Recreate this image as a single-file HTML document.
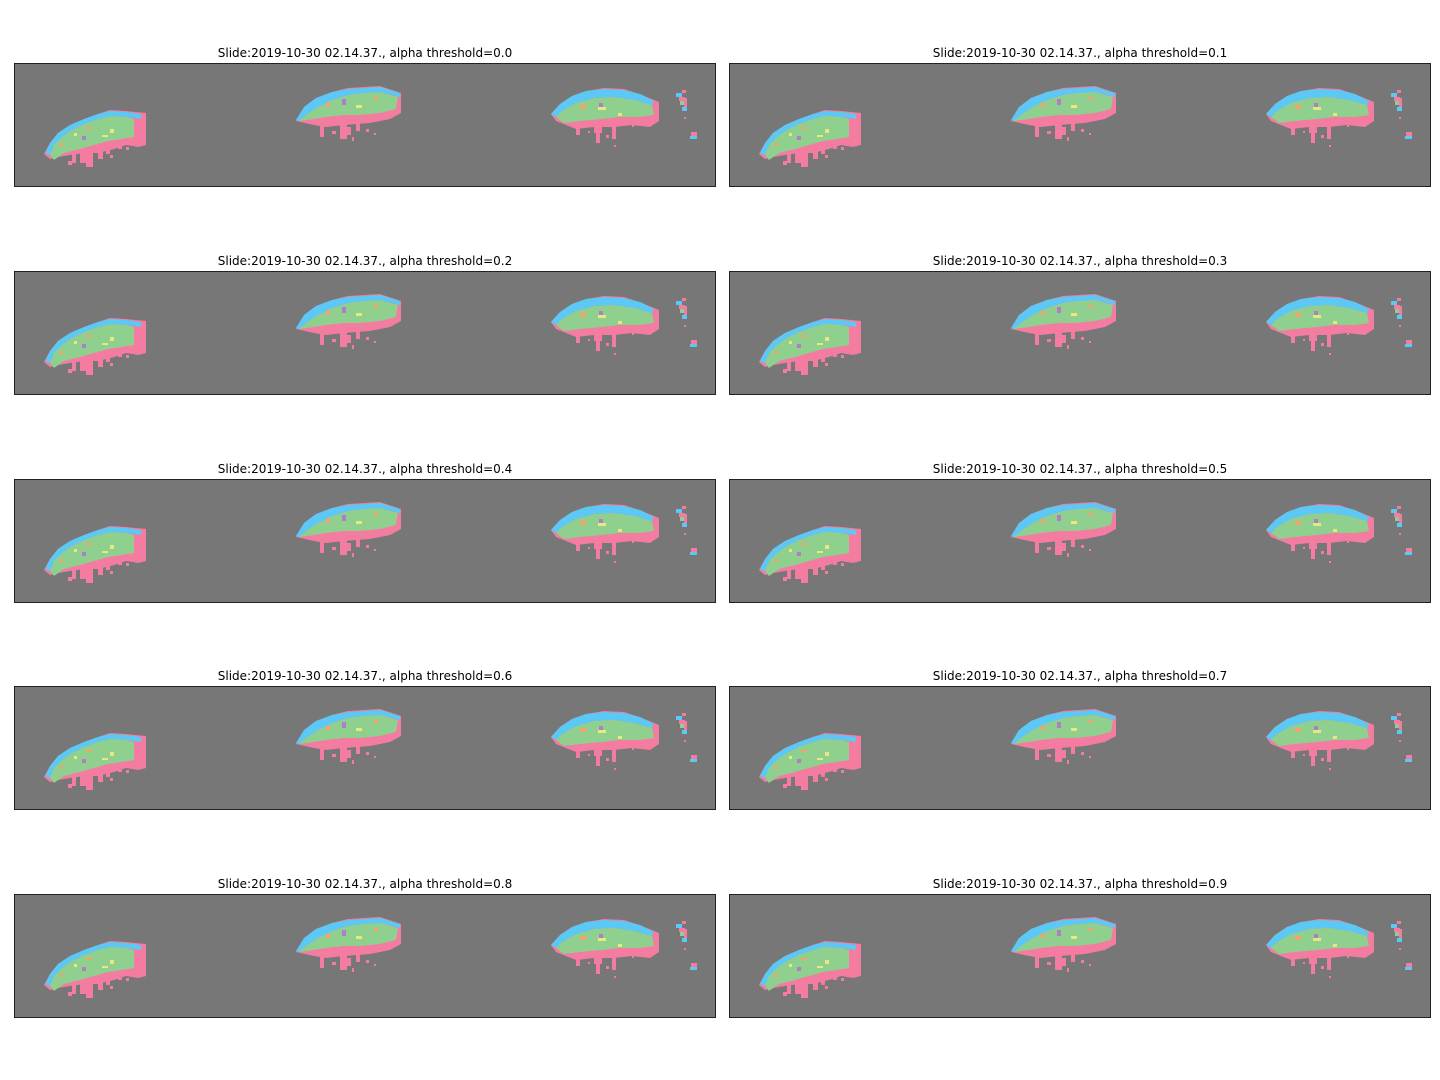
<!DOCTYPE html>
<html><head><meta charset="utf-8"><style>
body{margin:0;background:#fff;width:1440px;height:1080px;position:relative;overflow:hidden;font-family:"DejaVu Sans","Liberation Sans",sans-serif}
.t{position:absolute;font-size:12px;color:#000;white-space:nowrap;transform:translateX(-50%)}
svg.p{position:absolute}
</style></head><body>
<svg width="0" height="0" style="position:absolute">
<defs>
<g id="brain">
<!-- blob1 -->
<polygon fill="#f47ca0" points="30,91 36,80 44,70 56,62 70,56 84,51 96,47 112,48 132,50 132,82 124,84 112,82 100,86 84,90 70,90 56,92 44,94 36,96"/>
<polygon fill="#5bc8f5" points="31,90 36,80 44,70 56,62 70,56 84,51 96,48 112,49 127,51 127,56 112,54 96,53 84,56 70,61 58,67 48,74 40,82 36,92"/>
<polygon fill="#8fd08f" points="36,92 40,82 48,74 58,67 70,61 84,56 96,53 112,54 120,56 120,74 108,76 94,78 80,82 66,86 50,90 40,97"/>
<g fill="#f47ca0"><rect x="72" y="84" width="7" height="20"/><rect x="66" y="90" width="6" height="10"/><rect x="84" y="84" width="5" height="12"/><rect x="92" y="82" width="4" height="9"/><rect x="58" y="90" width="4" height="10"/><rect x="104" y="78" width="4" height="8"/><rect x="112" y="84" width="3" height="3"/><rect x="54" y="98" width="4" height="4"/><rect x="96" y="92" width="3" height="3"/></g>
<rect fill="#e8e880" x="60" y="70" width="3" height="3"/><rect fill="#f4a070" x="72" y="64" width="6" height="2"/><rect fill="#e8e880" x="96" y="66" width="4" height="4"/><rect fill="#b07ec8" x="68" y="73" width="4" height="4"/><rect fill="#f4a070" x="46" y="80" width="3" height="3"/><rect fill="#e8e880" x="88" y="72" width="6" height="2"/>
<!-- blob2 -->
<polygon fill="#f47ca0" points="282,58 290,44 302,35 318,29 334,25 350,24 366,23 387,30 387,50 376,56 356,60 330,62 312,64 300,62"/>
<polygon fill="#5bc8f5" points="282,57 290,44 302,35 318,29 334,26 350,25 366,24 386,30 386,34 366,29 350,30 334,32 318,37 304,44 292,52 285,58"/>
<polygon fill="#8fd08f" points="285,58 292,52 304,44 318,37 334,32 350,30 366,29 384,34 382,46 366,50 346,52 330,52 312,54 300,56"/>
<g fill="#f47ca0"><rect x="306" y="60" width="4" height="14"/><rect x="326" y="58" width="7" height="18"/><rect x="332" y="64" width="5" height="8"/><rect x="342" y="58" width="4" height="10"/><rect x="318" y="68" width="4" height="3"/><rect x="352" y="66" width="3" height="3"/><rect x="360" y="70" width="2" height="2"/><rect x="338" y="74" width="2" height="4"/></g>
<rect fill="#f4a070" x="312" y="40" width="4" height="4"/><rect fill="#b07ec8" x="328" y="36" width="4" height="6"/><rect fill="#e8e880" x="342" y="42" width="6" height="3"/><rect fill="#f4a070" x="360" y="34" width="4" height="3"/>
<!-- blob3 -->
<polygon fill="#f47ca0" points="537,51 546,41 558,33 572,28 590,25 610,26 628,32 645,39 645,58 636,64 618,62 600,64 580,64 562,66 552,62 542,58"/>
<polygon fill="#5bc8f5" points="537,51 546,41 558,33 572,28 590,26 610,27 626,31 640,38 638,42 620,37 600,34 580,35 562,40 548,48 542,54"/>
<polygon fill="#8fd08f" points="542,54 548,48 562,40 580,35 600,34 620,37 638,42 640,52 626,54 606,54 588,56 566,58 550,60"/>
<g fill="#f47ca0"><rect x="562" y="62" width="4" height="10"/><rect x="580" y="60" width="8" height="10"/><rect x="582" y="68" width="4" height="12"/><rect x="598" y="62" width="4" height="14"/><rect x="618" y="62" width="2" height="2"/><rect x="592" y="72" width="3" height="3"/><rect x="574" y="68" width="2" height="2"/><rect x="600" y="82" width="2" height="2"/></g>
<rect fill="#f4a070" x="566" y="42" width="6" height="4"/><rect fill="#e8e880" x="584" y="44" width="8" height="3"/><rect fill="#b07ec8" x="585" y="40" width="4" height="4"/><rect fill="#e8e880" x="604" y="50" width="4" height="3"/>
<!-- blob4 -->
<rect fill="#5bc8f5" x="662" y="30" width="6" height="4"/><rect fill="#f47ca0" x="668" y="27" width="4" height="3"/><rect fill="#f47ca0" x="665" y="34" width="6" height="4"/><rect fill="#8fd08f" x="666" y="38" width="4" height="4"/><rect fill="#f47ca0" x="670" y="35" width="3" height="10"/><rect fill="#5bc8f5" x="668" y="44" width="5" height="4"/><rect fill="#f47ca0" x="670" y="54" width="2" height="2"/><rect fill="#f47ca0" x="677" y="69" width="6" height="5"/><rect fill="#5bc8f5" x="676" y="73" width="7" height="3"/>
</g>
</defs>
</svg>
<script>
const thresholds=["0.0","0.1","0.2","0.3","0.4","0.5","0.6","0.7","0.8","0.9"];
const rowTops=[63,271,479,686,894];
const colLefts=[14,729];
thresholds.forEach((th,i)=>{
  const r=Math.floor(i/2), c=i%2;
  const x=colLefts[c], y=rowTops[r];
  const t=document.createElement('div');
  t.className='t';
  
  
  t.style.left=(x+351)+'px'; t.style.top=(y-17)+'px';
  t.textContent='Slide:2019-10-30 02.14.37., alpha threshold='+th;
  document.body.appendChild(t);
  const ns='http://www.w3.org/2000/svg';
  const s=document.createElementNS(ns,'svg');
  s.setAttribute('class','p');
  
  
  s.setAttribute('width','702');s.setAttribute('height','124');
  s.style.left=x+'px';s.style.top=y+'px';
  s.innerHTML='<rect x="0.5" y="0.5" width="701" height="123" fill="#777777" stroke="#222" stroke-width="1"/><use href="#brain"/>';
  document.body.appendChild(s);
});
</script>
</body></html>
